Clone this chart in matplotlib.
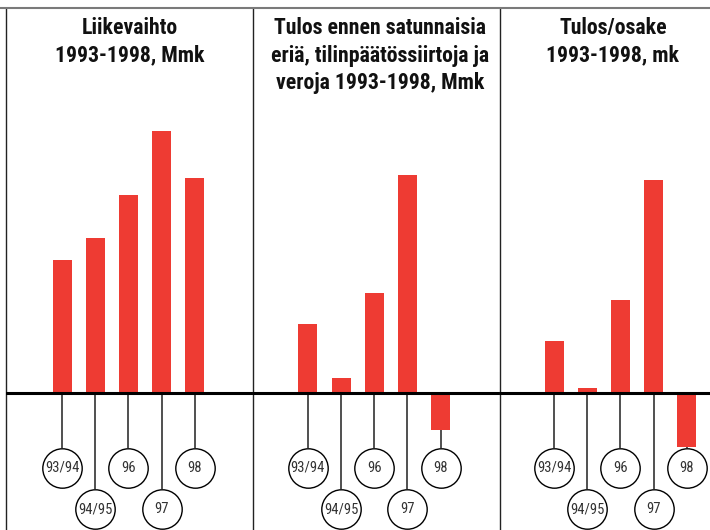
import matplotlib
matplotlib.use("Agg")
import matplotlib.pyplot as plt
from matplotlib.lines import Line2D

plt.rcParams["font.family"] = ["Roboto Condensed", "DejaVu Sans"]

YEARS = ["93/94", "94/95", "96", "97", "98"]

# Liikevaihto, Mmk
SALES = [667, 778, 992, 1313, 1075]
# Tulos ennen satunnaisia eriä, tilinpäätössiirtoja ja veroja, Mmk
PROFIT = [34.7, 7.7, 50.3, 109.0, -18.4]
# Tulos/osake, mk
EPS = [1.05, 0.11, 1.87, 4.26, -1.07]

TITLES = [
    "Liikevaihto\n1993-1998, Mmk",
    "Tulos ennen satunnaisia\neriä, tilinpäätössiirtoja ja\nveroja 1993-1998, Mmk",
    "Tulos/osake\n1993-1998, mk",
]

RED = "#ee3b33"
W, H = 710, 530          # figure in px
TOP = 8                  # top rule, px from top
BASE = 393.3             # zero line, px from top
PANEL_LEFT = [6, 253, 500]
PANEL_W = 247
FIRST_BAR = [56, 54.8, 54]   # first bar centre from panel edge, px
STEP = 33.2                  # px between bars
BAR_W = 19
ROW_Y = [468, 509]           # circle centres, px from top
RADIUS = 19.7
TITLE_X = [0.5, 0.514, 0.457]

fig = plt.figure(figsize=(W / 100, H / 100), dpi=100)
fig.add_artist(Line2D([0, 1], [1 - TOP / H, 1 - TOP / H], transform=fig.transFigure,
                      color="#7a7a7a", lw=1.5))

# data units per pixel for each panel
scales = [5.0, 0.5, 0.02]

for i, (vals, scale) in enumerate(zip([SALES, PROFIT, EPS], scales)):
    ax = fig.add_axes([PANEL_LEFT[i] / W, 0, PANEL_W / W, (H - TOP) / H])
    ax_h = H - TOP
    above = BASE - TOP
    ax.set_ylim(-(ax_h - above) * scale, above * scale)
    ax.set_xlim(-FIRST_BAR[i] / STEP, (PANEL_W - FIRST_BAR[i]) / STEP)

    xs = list(range(len(vals)))
    ax.bar(xs, vals, width=BAR_W / STEP, color=RED, zorder=2)

    # stems and circles, alternating between two rows
    cy = [-(ROW_Y[j % 2] - BASE) * scale for j in xs]
    for j, v in enumerate(vals):
        ax.vlines(j, cy[j] + RADIUS * scale, min(v, 0), color="#505050", lw=1.4, zorder=1)
    ax.scatter(xs, cy, s=(2 * RADIUS * 0.72) ** 2, facecolor="white",
               edgecolor="black", linewidth=1.0, zorder=3, clip_on=False)
    for j, lab in enumerate(YEARS):
        ax.text(j, cy[j], lab, ha="center", va="center", fontsize=10.5,
                color="#333333", zorder=4)

    ax.axhline(0, color="black", lw=2.2, zorder=3)

    ax.text(TITLE_X[i], 1 - 9 / ax_h, TITLES[i], transform=ax.transAxes,
            ha="center", va="top", fontsize=15.7, fontweight="bold",
            linespacing=1.33, color="#111111")

    for side in ["top", "right", "bottom"]:
        ax.spines[side].set_visible(False)
    ax.spines["left"].set_color("#222222")
    ax.spines["left"].set_linewidth(1.0)
    ax.set_xticks([])
    ax.set_yticks([])

fig.savefig("out.png", dpi=100)
